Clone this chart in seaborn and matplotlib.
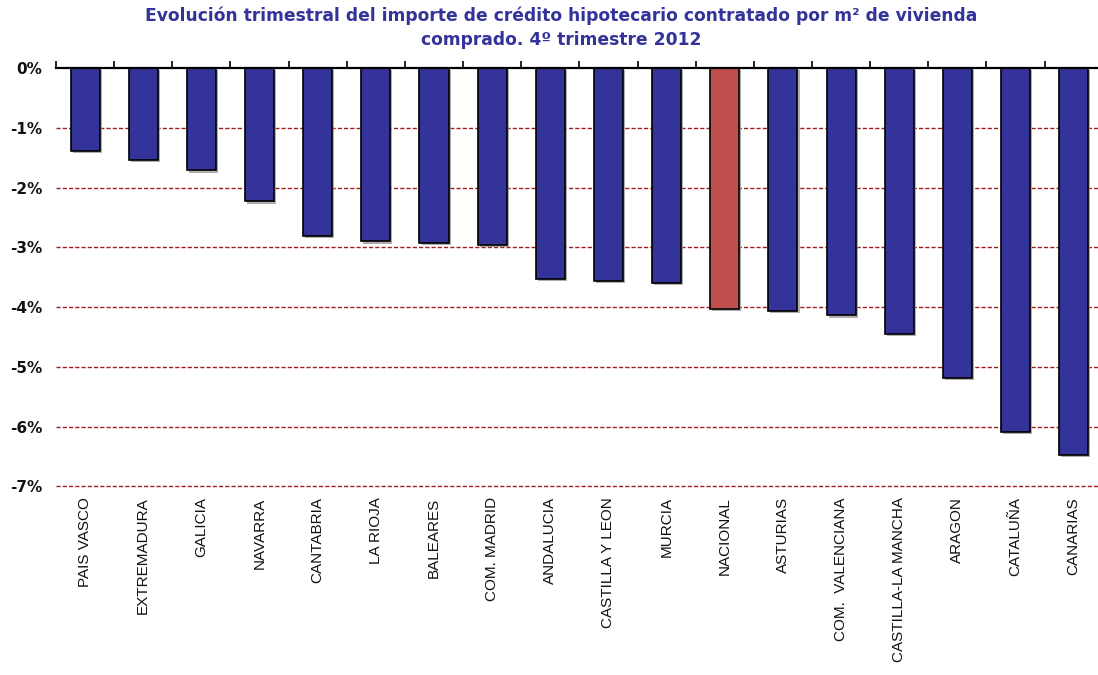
import matplotlib
matplotlib.use("Agg")
import matplotlib.pyplot as plt
import matplotlib.patheffects as pe
from matplotlib.ticker import FixedLocator, FuncFormatter
import seaborn as sns

# Quarterly change (%) of mortgage credit per m² purchased, Q4 2012
regions = ["PAIS VASCO", "EXTREMADURA", "GALICIA", "NAVARRA", "CANTABRIA",
           "LA RIOJA", "BALEARES", "COM. MADRID", "ANDALUCIA", "CASTILLA Y LEON",
           "MURCIA", "NACIONAL", "ASTURIAS", "COM.  VALENCIANA",
           "CASTILLA-LA MANCHA", "ARAGON", "CATALUÑA", "CANARIAS"]
changes = [-1.38, -1.54, -1.71, -2.23, -2.80, -2.90, -2.93, -2.96, -3.53,
           -3.56, -3.59, -4.03, -4.07, -4.14, -4.45, -5.18, -6.09, -6.48]
highlight = "NACIONAL"

title = ("Evolución trimestral del importe de crédito hipotecario contratado por m² de vivienda\n"
         "comprado. 4º trimestre 2012")

BLUE = "#333399"
RED = "#C0504D"
GRID = "#A01E1E"

sns.set_theme(style="white")
plt.rcParams["font.family"] = ["Liberation Sans", "DejaVu Sans"]

fig = plt.figure(figsize=(10.98, 6.75), dpi=100)
ax = fig.add_axes([0.051, 0.2797, 0.9533, 0.619])

palette = {r: (RED if r == highlight else BLUE) for r in regions}
sns.barplot(x=regions, y=changes, hue=regions, palette=palette, legend=False,
            width=0.5, edgecolor="black", linewidth=1.2, saturation=1, ax=ax,
            zorder=3)
for p in ax.patches:
    p.set_path_effects([pe.SimplePatchShadow(offset=(1.5, -1.5), shadow_rgbFace="#9a9a9a",
                                             alpha=0.8), pe.Normal()])

ax.set_xlim(-0.5, len(regions) - 0.5)
ax.set_ylim(-7, 0)

# dashed reference lines at every whole percent
for v in range(-7, 0):
    ax.axhline(v, color=GRID, lw=1.0, ls=(0, (3, 1.5)), zorder=1, clip_on=False)

for s in ["left", "right", "bottom"]:
    ax.spines[s].set_visible(False)
ax.spines["top"].set_visible(True)
ax.spines["top"].set_color("black")
ax.spines["top"].set_linewidth(1.6)
ax.spines["top"].set_zorder(5)

# tick marks on the zero line between categories, labels below the plot
ax.xaxis.set_minor_locator(FixedLocator([i - 0.5 for i in range(len(regions) + 1)]))
ax.tick_params(axis="x", which="minor", top=True, bottom=False, direction="out",
               length=5, width=1.2, color="black")
ax.tick_params(axis="x", which="major", top=False, bottom=False, length=0,
               labelbottom=True, labeltop=False, pad=8)
ax.set_xticks(range(len(regions)))
ax.set_xticklabels(regions, rotation=90, fontsize=11, color="#111111",
                   va="top", ha="center")

ax.set_yticks(range(-7, 1))
ax.yaxis.set_major_formatter(FuncFormatter(lambda v, _: f"{int(round(v))}%"))
ax.tick_params(axis="y", left=False, length=0, pad=10)
for lab in ax.get_yticklabels():
    lab.set_fontfamily("DejaVu Sans")
    lab.set_fontweight("bold")
    lab.set_fontsize(11)
    lab.set_color("#111111")

ax.set_xlabel("")
ax.set_ylabel("")
ax.grid(False)

fig.text(0.511, 0.990, title, ha="center", va="top", fontsize=12.3,
         fontweight="bold", color=BLUE, linespacing=1.4,
         fontfamily=["DejaVu Sans"])

fig.savefig("out.png", dpi=100)
